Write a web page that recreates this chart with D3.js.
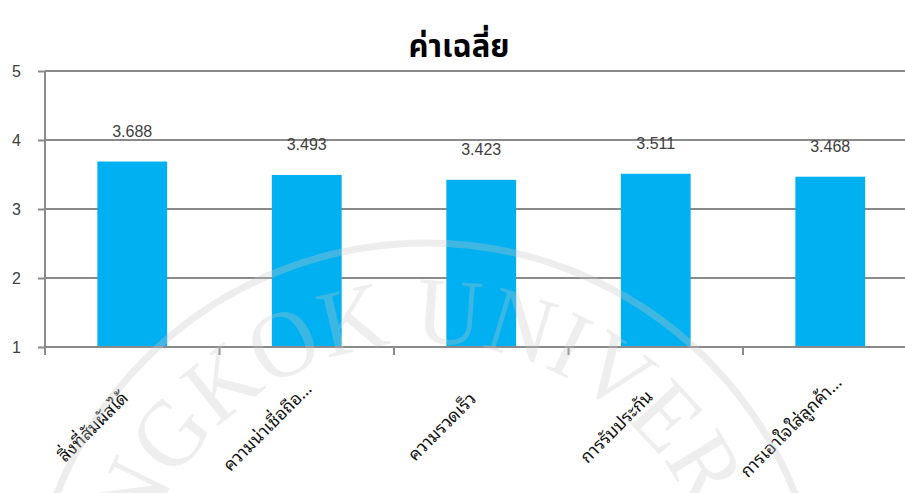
<!DOCTYPE html>
<html>
<head>
<meta charset="utf-8">
<script src="https://cdn.jsdelivr.net/npm/d3@7"></script>
<style>
  html, body { margin: 0; padding: 0; background: #fff; }
  svg { display: block; }
</style>
</head>
<body>
<svg id="chart" width="905" height="493"></svg>
<script>
const title = "ค่าเฉลี่ย";
const categories = ["สิ่งที่สัมผัสได้", "ความน่าเชื่อถือ…", "ความรวดเร็ว", "การรับประกัน", "การเอาใจใส่ลูกค้า…"];
const values = [3.688, 3.493, 3.423, 3.511, 3.468];
const valueLabels = ["3.688", "3.493", "3.423", "3.511", "3.468"];
const yTicks = [1, 2, 3, 4, 5];
const watermarkText = "BANGKOK UNIVERSITY";

const svg = d3.select("#chart");
const W = 905, H = 493;
const m = { left: 45, top: 71 };
const plotRight = 45 + 5 * 174.5;

const x = d3.scaleBand().domain(categories).range([m.left, plotRight]).padding(0);
const y = d3.scaleLinear().domain([1, 5]).range([347, 71]);
const barW = x.bandwidth() * 0.4;
const gridColor = "#8a8a8a";
const thaiFont = "'Noto Sans Thai Looped', 'Noto Sans Thai', 'Tahoma', 'Noto Sans', sans-serif";

// title
svg.append("text")
  .attr("x", 459).attr("y", 57)
  .attr("text-anchor", "middle")
  .style("font-family", "'Noto Sans Thai', 'Noto Sans', sans-serif")
  .style("font-weight", "bold")
  .style("font-size", "31px")
  .style("fill", "#000")
  .text(title);

// y axis ticks + labels
const yAxis = d3.axisLeft(y).tickValues(yTicks).tickSize(7).tickFormat(d3.format("d"));
const gy = svg.append("g").attr("transform", `translate(${m.left},0)`).call(yAxis);
gy.select(".domain").remove();
gy.selectAll(".tick line").attr("stroke", gridColor).attr("stroke-width", 2);
gy.selectAll(".tick text")
  .attr("x", -24)
  .style("font-family", "'Liberation Sans', Arial, sans-serif")
  .style("font-size", "16px")
  .style("fill", "#404040");

// gridlines
svg.append("g")
  .selectAll("line")
  .data(yTicks)
  .join("line")
  .attr("x1", m.left).attr("x2", W)
  .attr("y1", d => y(d)).attr("y2", d => y(d))
  .attr("stroke", gridColor).attr("stroke-width", 2);

// bars
svg.append("g")
  .selectAll("rect")
  .data(values)
  .join("rect")
  .attr("x", (d, i) => x(categories[i]) + (x.bandwidth() - barW) / 2)
  .attr("width", barW)
  .attr("y", d => y(d))
  .attr("height", d => y(1) - y(d))
  .attr("fill", "#00B0F0");

// y axis line
svg.append("line")
  .attr("x1", m.left).attr("x2", m.left)
  .attr("y1", y(5)).attr("y2", y(1) + 8)
  .attr("stroke", gridColor).attr("stroke-width", 2);

// x axis baseline
svg.append("line")
  .attr("x1", m.left).attr("x2", W)
  .attr("y1", y(1)).attr("y2", y(1))
  .attr("stroke", gridColor).attr("stroke-width", 2);

// x tick marks at band boundaries
const boundaries = categories.map(c => x(c)).concat([x(categories[categories.length - 1]) + x.bandwidth()]);
svg.append("g")
  .selectAll("line")
  .data(boundaries)
  .join("line")
  .attr("x1", d => d).attr("x2", d => d)
  .attr("y1", y(1)).attr("y2", y(1) + 8)
  .attr("stroke", gridColor).attr("stroke-width", 2);

// value labels
svg.append("g")
  .selectAll("text")
  .data(values)
  .join("text")
  .attr("x", (d, i) => x(categories[i]) + x.bandwidth() / 2)
  .attr("y", d => y(d) - 25)
  .attr("text-anchor", "middle")
  .style("font-family", "'Liberation Sans', Arial, sans-serif")
  .style("font-size", "16px")
  .style("fill", "#404040")
  .text((d, i) => valueLabels[i]);

// category labels
svg.append("g")
  .selectAll("text")
  .data(categories)
  .join("text")
  .attr("transform", d => `translate(${x(d) + x.bandwidth() / 2 - 35},${431}) rotate(-45)`)
  .attr("text-anchor", "middle")
  .style("font-family", thaiFont)
  .style("font-size", "17.5px")
  .style("fill", "#111")
  .text(d => d);

// watermark
const cx = 426, cy = 640, R = 397, Rt = 297;
const wm = svg.append("g").attr("pointer-events", "none");
wm.append("circle")
  .attr("cx", cx).attr("cy", cy).attr("r", R)
  .attr("fill", "none")
  .attr("stroke", "rgba(200,200,200,0.32)")
  .attr("stroke-width", 7);
wm.append("path")
  .attr("id", "wmPath")
  .attr("fill", "none")
  .attr("d", `M ${cx},${cy + Rt} A ${Rt},${Rt} 0 1 1 ${cx},${cy - Rt} A ${Rt},${Rt} 0 1 1 ${cx},${cy + Rt}`);
const wmText = wm.append("text")
  .style("font-family", "'Liberation Serif', 'Times New Roman', serif")
  .style("font-size", "95px")
  .style("fill", "rgba(200,200,200,0.3)");
const tp = wmText.append("textPath")
  .attr("href", "#wmPath")
  .attr("startOffset", "51.2%")
  .attr("text-anchor", "middle")
  .text(watermarkText);
const natural = wmText.node().getComputedTextLength();
tp.attr("textLength", natural * 0.96).attr("lengthAdjust", "spacingAndGlyphs");
</script>
</body>
</html>
